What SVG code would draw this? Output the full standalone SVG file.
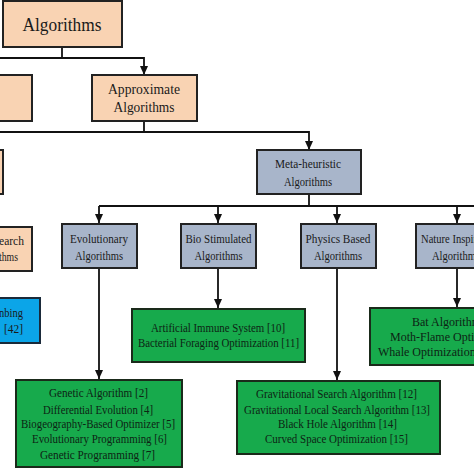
<svg xmlns="http://www.w3.org/2000/svg" width="474" height="474" viewBox="0 0 474 474">
<defs>
<marker id="ah" markerUnits="userSpaceOnUse" markerWidth="9" markerHeight="8" refX="9" refY="4" orient="auto">
<path d="M0,0 L9,4 L0,8 z" fill="#111"/>
</marker>
<style>
.peach{fill:#F9D3B3;stroke:#222;stroke-width:2}
.gray{fill:#A8B5CA;stroke:#222;stroke-width:2}
.green{fill:#17AA4C;stroke:#1a2a1a;stroke-width:2}
.blue{fill:#0BA5E8;stroke:#1a2a3a;stroke-width:2}
text{font-family:"Liberation Serif","Times New Roman",serif;fill:#1a1a1a;text-anchor:middle}
.t13{font-size:13px}
.t12{font-size:12px;fill:#0d2414}
.con{fill:none;stroke:#111;stroke-width:1.8}
</style>
</defs>
<rect width="474" height="474" fill="#fff"/>

<g id="connectors">
<path class="con" d="M62,47 V58"/>
<path class="con" d="M0,58 H144 V75" marker-end="url(#ah)"/>
<path class="con" d="M144,121 V132"/>
<path class="con" d="M0,132 H309 V150" marker-end="url(#ah)"/>
<path class="con" d="M309,194 V206"/>
<path class="con" d="M99,206 H474"/>
<path class="con" d="M99,206 V223" marker-end="url(#ah)"/>
<path class="con" d="M218,206 V223" marker-end="url(#ah)"/>
<path class="con" d="M337,206 V223" marker-end="url(#ah)"/>
<path class="con" d="M457,206 V223" marker-end="url(#ah)"/>
<path class="con" d="M218,268 V308" marker-end="url(#ah)"/>
<path class="con" d="M99,268 V379" marker-end="url(#ah)"/>
<path class="con" d="M337,268 V380" marker-end="url(#ah)"/>
<path class="con" d="M457,268 V307" marker-end="url(#ah)"/>
</g>

<g id="algorithms">
<rect class="peach" x="3" y="1" width="119" height="46"/>
<text x="62" y="31" style="font-size:18px" textLength="79" lengthAdjust="spacingAndGlyphs">Algorithms</text>
</g>

<g id="left-top">
<rect class="peach" x="-5" y="75" width="37" height="46"/>
</g>

<g id="approximate">
<rect class="peach" x="92" y="75" width="105" height="46"/>
<text x="144" y="94" style="font-size:14px" textLength="72" lengthAdjust="spacingAndGlyphs">Approximate</text>
<text x="144" y="112" style="font-size:14px" textLength="61" lengthAdjust="spacingAndGlyphs">Algorithms</text>
</g>

<g id="left-mid">
<rect class="peach" x="-5" y="150" width="8" height="44"/>
</g>

<g id="meta-heuristic">
<rect class="gray" x="257" y="150" width="104" height="44"/>
<text class="t13" x="308" y="168" textLength="66" lengthAdjust="spacingAndGlyphs">Meta-heuristic</text>
<text class="t13" x="308" y="186" textLength="48" lengthAdjust="spacingAndGlyphs">Algorithms</text>
</g>

<g id="local-search">
<rect class="peach" x="-5" y="227" width="37" height="44"/>
<text class="t13" x="24" y="245" style="text-anchor:end" textLength="25" lengthAdjust="spacingAndGlyphs">earch</text>
<text class="t13" x="18" y="261" style="text-anchor:end" textLength="19" lengthAdjust="spacingAndGlyphs">thms</text>
</g>

<g id="hill-climbing">
<rect class="blue" x="-5" y="298" width="45" height="45"/>
<text class="t13" x="23" y="317" style="text-anchor:end" textLength="24" lengthAdjust="spacingAndGlyphs">nbing</text>
<text class="t13" x="23" y="333" style="text-anchor:end" textLength="19" lengthAdjust="spacingAndGlyphs">[42]</text>
</g>

<g id="evolutionary">
<rect class="gray" x="62" y="224" width="75" height="44"/>
<text class="t13" x="99" y="243" textLength="58" lengthAdjust="spacingAndGlyphs">Evolutionary</text>
<text class="t13" x="99" y="260" textLength="48" lengthAdjust="spacingAndGlyphs">Algorithms</text>
</g>

<g id="bio-stimulated">
<rect class="gray" x="181" y="224" width="75" height="44"/>
<text class="t13" x="218.5" y="243" textLength="66" lengthAdjust="spacingAndGlyphs">Bio Stimulated</text>
<text class="t13" x="218.5" y="260" textLength="48" lengthAdjust="spacingAndGlyphs">Algorithms</text>
</g>

<g id="physics-based">
<rect class="gray" x="301" y="224" width="75" height="44"/>
<text class="t13" x="338" y="243" textLength="65" lengthAdjust="spacingAndGlyphs">Physics Based</text>
<text class="t13" x="338" y="260" textLength="48" lengthAdjust="spacingAndGlyphs">Algorithms</text>
</g>

<g id="nature-inspired">
<rect class="gray" x="416" y="224" width="75" height="44"/>
<text class="t13" x="421" y="243" style="text-anchor:start" textLength="66" lengthAdjust="spacingAndGlyphs">Nature Inspired</text>
<text class="t13" x="432" y="260" style="text-anchor:start" textLength="48" lengthAdjust="spacingAndGlyphs">Algorithms</text>
</g>

<g id="bio-list">
<rect class="green" x="132" y="309" width="173" height="53"/>
<text class="t12" x="218" y="332" textLength="134" lengthAdjust="spacingAndGlyphs">Artificial Immune System [10]</text>
<text class="t12" x="218.5" y="347" textLength="161" lengthAdjust="spacingAndGlyphs">Bacterial Foraging Optimization [11]</text>
</g>

<g id="nature-list">
<rect class="green" x="370" y="308" width="120" height="57"/>
<text class="t12" x="412" y="326" style="text-anchor:start">Bat Algorithm</text>
<text class="t12" x="390" y="341" style="text-anchor:start">Moth-Flame Optim</text>
<text class="t12" x="378" y="356" style="text-anchor:start">Whale Optimization A</text>
</g>

<g id="evolutionary-list">
<rect class="green" x="16" y="380" width="166" height="87"/>
<text class="t12" x="98.5" y="397" textLength="99" lengthAdjust="spacingAndGlyphs">Genetic Algorithm [2]</text>
<text class="t12" x="98" y="414" textLength="110" lengthAdjust="spacingAndGlyphs">Differential Evolution [4]</text>
<text class="t12" x="98" y="428" textLength="154" lengthAdjust="spacingAndGlyphs">Biogeography-Based Optimizer [5]</text>
<text class="t12" x="99.5" y="443" textLength="135" lengthAdjust="spacingAndGlyphs">Evolutionary Programming [6]</text>
<text class="t12" x="97.5" y="459" textLength="115" lengthAdjust="spacingAndGlyphs">Genetic Programming [7]</text>
</g>

<g id="physics-list">
<rect class="green" x="237" y="381" width="203" height="73"/>
<text class="t12" x="336.5" y="398" textLength="161" lengthAdjust="spacingAndGlyphs">Gravitational Search Algorithm  [12]</text>
<text class="t12" x="337" y="414" textLength="186" lengthAdjust="spacingAndGlyphs">Gravitational Local Search Algorithm [13]</text>
<text class="t12" x="337.5" y="428" textLength="119" lengthAdjust="spacingAndGlyphs">Black Hole Algorithm [14]</text>
<text class="t12" x="336.5" y="443" textLength="143" lengthAdjust="spacingAndGlyphs">Curved Space Optimization [15]</text>
</g>
</svg>
